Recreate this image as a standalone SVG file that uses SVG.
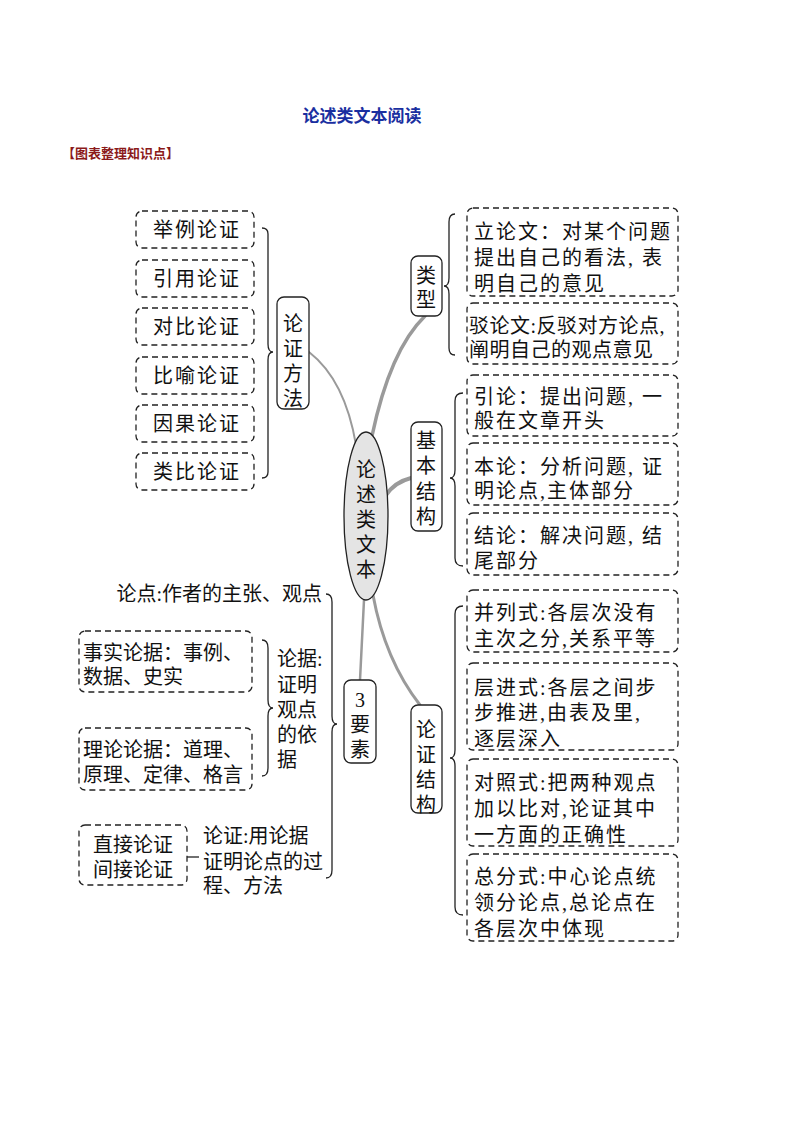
<svg xmlns="http://www.w3.org/2000/svg" width="794" height="1123" viewBox="0 0 794 1123">
<style>
text{font-family:"Liberation Serif","Noto Sans CJK SC",serif;font-size:20px;fill:#111}
.w{letter-spacing:2px}
.d{fill:#fff;stroke:#222;stroke-width:1.3;stroke-dasharray:6 4}
.s{fill:#fff;stroke:#222;stroke-width:1.3}
.b{fill:none;stroke:#222;stroke-width:1.3}
.c{fill:none;stroke:#9a9a9a;stroke-linecap:round}
.m{text-anchor:middle}
</style>
<rect width="794" height="1123" fill="#fff"/>
<text x="362" y="122" class="m" style="font-size:17px;font-weight:bold;fill:#1a2fa0;font-family:'Noto Sans CJK SC',sans-serif">论述类文本阅读</text>
<text x="62" y="158" style="font-size:13px;font-weight:bold;fill:#8b1a1a;font-family:'Noto Sans CJK SC',sans-serif">【图表整理知识点】</text>
<g id="connectors">
<path class="c" d="M356 445 Q345 380 309 352" stroke-width="2"/>
<path class="c" d="M372 436 Q390 350 425 316" stroke-width="3.5"/>
<path class="c" d="M386 495 Q395 482 411 478" stroke-width="4"/>
<path class="c" d="M364 600 L360 680" stroke-width="2.5"/>
<path class="c" d="M373 595 Q385 660 420 705" stroke-width="3"/>
<path class="b" d="M262 228 q6 0 6 6 v110 q0 8 5 8 q-5 0 -5 8 v112 q0 6 -6 6"/>
<path class="b" d="M455 214 q-6 0 -6 8 v56 q0 8 -5 8 q5 0 5 8 v54 q0 7 6 7"/>
<path class="b" d="M463 393 q-8 0 -8 8 v69 q0 8 -5 8 q5 0 5 8 v72 q0 8 8 8"/>
<path class="b" d="M463 606 q-8 0 -8 8 v136 q0 8 -5 8 q5 0 5 8 v141 q0 8 8 8"/>
<path class="b" d="M326 594 q6 0 6 8 v114 q0 8 5 8 q-5 0 -5 8 v138 q0 8 -6 8"/>
<path class="b" d="M262 640 q6 0 6 8 v52 q0 8 5 8 q-5 0 -5 8 v52 q0 8 -6 8"/>
<path class="b" d="M187 857 H199"/>
</g>
<g id="center"><ellipse cx="366" cy="516" rx="22" ry="84" fill="#e4e4e4" stroke="#222" stroke-width="1.3"/>
<text x="366" class="m"><tspan x="366" y="477">论</tspan><tspan x="366" y="502">述</tspan><tspan x="366" y="527">类</tspan><tspan x="366" y="552">文</tspan><tspan x="366" y="577">本</tspan></text></g>
<g id="methods"><rect class="s" x="277" y="297" width="32" height="112" rx="7"/><text class="m"><tspan x="293" y="331">论</tspan><tspan x="293" y="356">证</tspan><tspan x="293" y="381">方</tspan><tspan x="293" y="406">法</tspan></text></g>
<g id="m1"><rect class="d" x="136" y="211" width="118" height="37" rx="6"/><text x="197" y="237" class="m w">举例论证</text></g>
<g id="m2"><rect class="d" x="136" y="260" width="118" height="37" rx="6"/><text x="197" y="286" class="m w">引用论证</text></g>
<g id="m3"><rect class="d" x="136" y="308" width="118" height="37" rx="6"/><text x="197" y="334" class="m w">对比论证</text></g>
<g id="m4"><rect class="d" x="136" y="357" width="118" height="37" rx="6"/><text x="197" y="383" class="m w">比喻论证</text></g>
<g id="m5"><rect class="d" x="136" y="405" width="118" height="37" rx="6"/><text x="197" y="431" class="m w">因果论证</text></g>
<g id="m6"><rect class="d" x="136" y="453" width="118" height="37" rx="6"/><text x="197" y="479" class="m w">类比论证</text></g>
<g id="types"><rect class="s" x="411" y="256" width="31" height="60" rx="7"/><text class="m"><tspan x="426" y="283">类</tspan><tspan x="426" y="307">型</tspan></text></g>
<g id="t1"><rect class="d" x="467" y="208" width="211" height="88" rx="6"/><text class="w"><tspan x="474" y="239">立论文：对某个问题</tspan><tspan x="474" y="265">提出自己的看法, 表</tspan><tspan x="474" y="291">明自己的意见</tspan></text></g>
<g id="t2"><rect class="d" x="467" y="303" width="211" height="61" rx="6"/><text style="letter-spacing:0.5px"><tspan x="469" y="333">驳论文:反驳对方论点,</tspan><tspan x="469" y="357">阐明自己的观点意见</tspan></text></g>
<g id="basic"><rect class="s" x="411" y="422" width="31" height="109" rx="7"/><text class="m"><tspan x="426" y="448">基</tspan><tspan x="426" y="473">本</tspan><tspan x="426" y="499">结</tspan><tspan x="426" y="524">构</tspan></text></g>
<g id="b1"><rect class="d" x="467" y="375" width="211" height="61" rx="6"/><text class="w"><tspan x="474" y="404">引论：提出问题, 一</tspan><tspan x="474" y="428">般在文章开头</tspan></text></g>
<g id="b2"><rect class="d" x="467" y="443" width="211" height="62" rx="6"/><text class="w"><tspan x="474" y="474">本论：分析问题, 证</tspan><tspan x="474" y="498">明论点,主体部分</tspan></text></g>
<g id="b3"><rect class="d" x="467" y="513" width="211" height="62" rx="6"/><text class="w"><tspan x="474" y="543">结论：解决问题, 结</tspan><tspan x="474" y="568">尾部分</tspan></text></g>
<g id="struct"><rect class="s" x="411" y="705" width="31" height="108" rx="7"/><text class="m"><tspan x="426" y="737">论</tspan><tspan x="426" y="762">证</tspan><tspan x="426" y="787">结</tspan><tspan x="426" y="812">构</tspan></text></g>
<g id="s1"><rect class="d" x="467" y="590" width="211" height="62" rx="6"/><text class="w"><tspan x="474" y="620">并列式:各层次没有</tspan><tspan x="474" y="646">主次之分,关系平等</tspan></text></g>
<g id="s2"><rect class="d" x="467" y="663" width="211" height="87" rx="6"/><text class="w"><tspan x="474" y="695">层进式:各层之间步</tspan><tspan x="474" y="720">步推进,由表及里,</tspan><tspan x="474" y="746">逐层深入</tspan></text></g>
<g id="s3"><rect class="d" x="467" y="759" width="211" height="87" rx="6"/><text class="w"><tspan x="474" y="790">对照式:把两种观点</tspan><tspan x="474" y="816">加以比对,论证其中</tspan><tspan x="474" y="842">一方面的正确性</tspan></text></g>
<g id="s4"><rect class="d" x="467" y="854" width="211" height="87" rx="6"/><text class="w"><tspan x="474" y="884">总分式:中心论点统</tspan><tspan x="474" y="910">领分论点,总论点在</tspan><tspan x="474" y="936">各层次中体现</tspan></text></g>
<g id="three"><rect class="s" x="344" y="680" width="32" height="83" rx="7"/><text class="m"><tspan x="360" y="707">3</tspan><tspan x="360" y="732">要</tspan><tspan x="360" y="757">素</tspan></text></g>
<g id="point"><text x="322" y="601" style="text-anchor:end">论点:作者的主张、观点</text></g>
<g id="evid"><text><tspan x="277" y="666">论据:</tspan><tspan x="277" y="692">证明</tspan><tspan x="277" y="717">观点</tspan><tspan x="277" y="742">的依</tspan><tspan x="277" y="767">据</tspan></text></g>
<g id="e1"><rect class="d" x="79" y="631" width="173" height="61" rx="6"/><text><tspan x="83" y="660">事实论据：事例、</tspan><tspan x="83" y="684">数据、史实</tspan></text></g>
<g id="e2"><rect class="d" x="79" y="728" width="173" height="62" rx="6"/><text><tspan x="83" y="757">理论论据：道理、</tspan><tspan x="83" y="782">原理、定律、格言</tspan></text></g>
<g id="proof"><text><tspan x="203" y="843">论证:用论据</tspan><tspan x="203" y="869">证明论点的过</tspan><tspan x="203" y="893">程、方法</tspan></text></g>
<g id="p1"><rect class="d" x="79" y="825" width="108" height="60" rx="6"/><text class="m"><tspan x="133" y="852">直接论证</tspan><tspan x="133" y="877">间接论证</tspan></text></g>
</svg>
